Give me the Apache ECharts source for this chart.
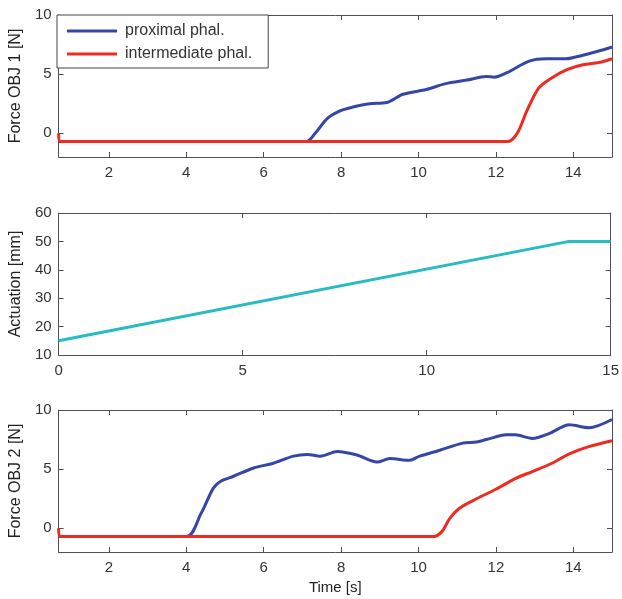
<!DOCTYPE html>
<html>
<head>
<meta charset="utf-8">
<title></title>
<style>
    html,body{ margin:0; padding:0; background:#fff; }
</style>
</head>
<body>
<script src="https://cdn.jsdelivr.net/npm/echarts@6/dist/echarts.min.js"></script>
<div id="main" style="width:622px;height:599px;"></div>
<script type="text/javascript">
    // object 1 - proximal phalanx
    var t1Prox = [0.7, 7.1, 7.33, 7.64, 7.97, 8.28, 8.74, 9.18, 9.6, 10.2, 10.7, 11.25, 11.75, 11.96, 12.27, 12.86, 13.3, 13.8, 14.25, 14.7, 15];
    var f1Prox = [-0.7, -0.7, 0, 1.25, 1.9, 2.2, 2.5, 2.6, 3.3, 3.7, 4.2, 4.5, 4.8, 4.75, 5.1, 6.1, 6.3, 6.3, 6.6, 7.0, 7.3];
    // object 1 - intermediate phalanx
    var t1Int = [0.7, 0.75, 12.3, 12.55, 12.8, 13.1, 13.4, 13.85, 14.25, 14.7, 15];
    var f1Int = [0, -0.7, -0.7, 0, 1.9, 3.8, 4.6, 5.4, 5.8, 6.0, 6.3];
    // actuation
    var tAct = [0, 13.87, 15];
    var act = [15, 50, 50];
    // object 2 - proximal phalanx
    var t2Prox = [0.7, 4.0, 4.38, 4.7, 4.9, 5.22, 5.74, 6.25, 6.77, 7.13, 7.46, 7.9, 8.41, 8.93, 9.26, 9.77, 10.03, 10.55, 11.14, 11.5, 11.75, 12.27, 12.5, 12.94, 13.37, 13.9, 14.4, 15];
    var f2Prox = [-0.7, -0.7, 1.25, 3.4, 4.0, 4.4, 5.1, 5.5, 6.1, 6.25, 6.1, 6.5, 6.2, 5.6, 5.9, 5.75, 6.1, 6.6, 7.2, 7.3, 7.5, 7.9, 7.9, 7.6, 8.0, 8.75, 8.5, 9.2];
    // object 2 - intermediate phalanx
    var t2Int = [0.7, 0.75, 10.37, 10.6, 10.8, 11.06, 11.5, 12.0, 12.5, 12.94, 13.45, 13.9, 14.4, 15];
    var f2Int = [0, -0.7, -0.7, -0.3, 0.8, 1.7, 2.5, 3.3, 4.2, 4.8, 5.5, 6.3, 6.9, 7.4];

    var timeTicks = [2, 4, 6, 8, 10, 12, 14];
    var forceTicks = [0, 5, 10];

    var blue = '#3447a8', red = '#ee2b1f', cyan = '#27bcc3';
    var font = 'Liberation Sans';

    function zip(a, b) {
        return a.map(function (v, i) { return [v, b[i]]; });
    }

    var myChart = echarts.init(document.getElementById('main'));

    var grids = [
        {left: 57, top: 15, width: 555, height: 142},
        {left: 57, top: 213, width: 555, height: 142},
        {left: 57, top: 410, width: 555, height: 142}
    ];

    var lineCol = '#505050';

    function xAx(g, pos, opt) {
        var a = {
            type: 'value', gridIndex: g, position: pos,
            min: opt.min, max: opt.max,
            splitLine: {show: false},
            axisLine: {show: true, onZero: false, lineStyle: {color: lineCol, width: 1}},
            axisTick: {show: true, inside: true, length: 5, lineStyle: {color: lineCol}},
            axisLabel: {show: pos == 'bottom', margin: 8, color: '#333', fontSize: 15, fontFamily: font}
        };
        if (opt.interval) a.interval = opt.interval;
        if (opt.ticks) {
            a.axisTick.customValues = opt.ticks;
            a.axisLabel.customValues = opt.ticks;
        }
        if (opt.name && pos == 'bottom') {
            a.name = opt.name;
            a.nameLocation = 'middle';
            a.nameGap = 28;
            a.nameTextStyle = {color: '#222', fontSize: 15, fontFamily: font};
        }
        return a;
    }

    function yAx(g, pos, opt) {
        var a = {
            type: 'value', gridIndex: g, position: pos,
            min: opt.min, max: opt.max,
            splitLine: {show: false},
            axisLine: {show: true, onZero: false, lineStyle: {color: lineCol, width: 1}},
            axisTick: {show: true, inside: true, length: 5, lineStyle: {color: lineCol}},
            axisLabel: {show: pos == 'left', margin: 7, color: '#333', fontSize: 15, fontFamily: font}
        };
        if (opt.interval) a.interval = opt.interval;
        if (opt.ticks) {
            a.axisTick.customValues = opt.ticks;
            a.axisLabel.customValues = opt.ticks;
        }
        if (pos == 'left') {
            a.name = opt.name;
            a.nameLocation = 'middle';
            a.nameGap = 33;
            a.nameTextStyle = {color: '#222', fontSize: 16, fontFamily: font};
        }
        return a;
    }

    var xForce = {min: 0.7, max: 15, ticks: timeTicks};
    var xAct = {min: 0, max: 15, interval: 5};

    var xAxes = [
        xAx(0, 'bottom', xForce), xAx(0, 'top', xForce),
        xAx(1, 'bottom', xAct), xAx(1, 'top', xAct),
        xAx(2, 'bottom', {min: 0.7, max: 15, ticks: timeTicks, name: 'Time [s]'}), xAx(2, 'top', xForce)
    ];
    var yAxes = [
        yAx(0, 'left', {min: -2, max: 10, ticks: forceTicks, name: 'Force OBJ 1 [N]'}), yAx(0, 'right', {min: -2, max: 10, ticks: forceTicks}),
        yAx(1, 'left', {min: 10, max: 60, interval: 10, name: 'Actuation [mm]'}), yAx(1, 'right', {min: 10, max: 60, interval: 10}),
        yAx(2, 'left', {min: -2, max: 10, ticks: forceTicks, name: 'Force OBJ 2 [N]'}), yAx(2, 'right', {min: -2, max: 10, ticks: forceTicks})
    ];

    function line(name, x, y, xi, yi, color, smooth) {
        return {
            name: name, type: 'line', xAxisIndex: xi, yAxisIndex: yi,
            data: zip(x, y), showSymbol: false, symbol: 'none', smooth: smooth,
            lineStyle: {color: color, width: 3}, itemStyle: {color: color},
            animation: false
        };
    }

    myChart.setOption({
        backgroundColor: '#fff',
        animation: false,
        grid: grids,
        legend: {
            left: 57, top: 15, orient: 'vertical',
            data: ['proximal phal.', 'intermediate phal.'],
            icon: 'rect',
            itemWidth: 50, itemHeight: 3, itemGap: 7,
            padding: [8, 16, 6, 10],
            backgroundColor: '#fff',
            borderColor: '#444', borderWidth: 1, borderRadius: 0,
            textStyle: {color: '#333', fontSize: 16, fontFamily: font, padding: [0, 0, 0, 3]}
        },
        xAxis: xAxes,
        yAxis: yAxes,
        series: [
            line('proximal phal.', t1Prox, f1Prox, 0, 0, blue, 0.3),
            line('intermediate phal.', t1Int, f1Int, 0, 0, red, 0.3),
            line('actuation', tAct, act, 2, 2, cyan, false),
            line('proximal phal.', t2Prox, f2Prox, 4, 4, blue, 0.3),
            line('intermediate phal.', t2Int, f2Int, 4, 4, red, 0.3)
        ]
    });
</script>
</body>
</html>
